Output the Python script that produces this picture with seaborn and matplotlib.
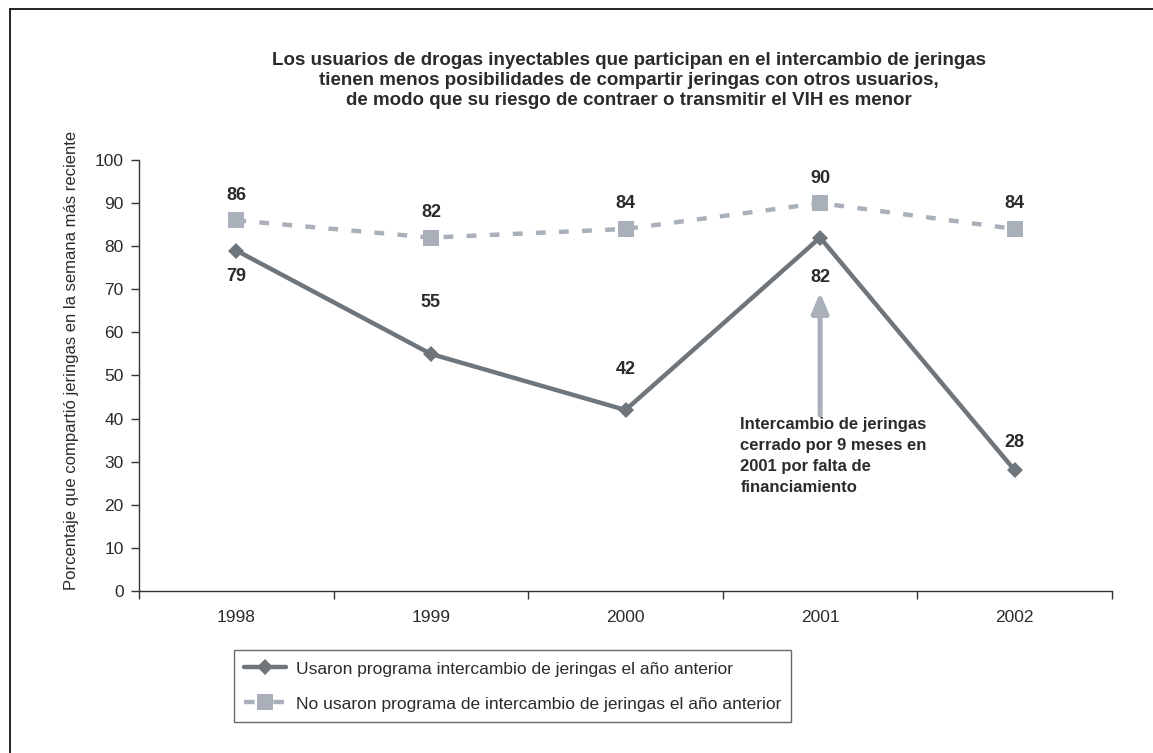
import matplotlib
matplotlib.use("Agg")
from matplotlib import pyplot as plt
from matplotlib.lines import Line2D
from matplotlib.patches import Rectangle
import numpy as np
import pandas as pd
import seaborn as sns

years = [1998, 1999, 2000, 2001, 2002]
used = [79, 55, 42, 82, 28]
not_used = [86, 82, 84, 90, 84]

title = ("Los usuarios de drogas inyectables que participan en el intercambio de jeringas\n"
         "tienen menos posibilidades de compartir jeringas con otros usuarios,\n"
         "de modo que su riesgo de contraer o transmitir el VIH es menor")
ylabel = "Porcentaje que compartió jeringas en la semana más reciente"
label_used = "Usaron programa intercambio de jeringas el año anterior"
label_not = "No usaron programa de intercambio de jeringas el año anterior"
note = "Intercambio de jeringas\ncerrado por 9 meses en\n2001 por falta de\nfinanciamiento"

# vertical offsets (points) of the value labels
used_offsets = [-19, 37, 29, -29, 20]
not_used_offset = 18

dark = "#6e767c"
light = "#a9b0b9"
txt = "#2b2b2b"

sns.set_style("white")
plt.rcParams['font.family'] = ['Liberation Sans', 'DejaVu Sans']

df = pd.DataFrame({"year": years, "used": used, "not_used": not_used})

fig = plt.figure(figsize=(11.53, 7.53), dpi=100)
ax = fig.add_axes([139 / 1153, 1 - 591 / 753, (1112 - 139) / 1153, (591 - 160) / 753])

sns.lineplot(data=df, x="year", y="not_used", ax=ax, color=light, lw=3.2,
             marker="s", markersize=11, markeredgewidth=0)
ax.lines[-1].set_dashes((2.2, 3.0))
sns.lineplot(data=df, x="year", y="used", ax=ax, color=dark, lw=3.2,
             marker="D", markersize=8, markeredgewidth=0)

for x, y in zip(years, not_used):
    ax.annotate(str(y), (x, y), xytext=(0, not_used_offset), textcoords="offset points",
                ha="center", va="center", fontsize=13, fontweight="bold", color=txt)
for x, y, off in zip(years, used, used_offsets):
    ax.annotate(str(y), (x, y), xytext=(0, off), textcoords="offset points",
                ha="center", va="center", fontsize=13, fontweight="bold", color=txt)

# arrow for the 2001 closure note
ax.annotate("", xy=(2001, 69.3), xytext=(2001, 40.8),
            arrowprops=dict(arrowstyle="-|>,head_width=0.5,head_length=1.2",
                            color=light, lw=3.6, shrinkA=0, shrinkB=0))
ax.text(2000.59, 40.3, note, ha="left", va="top", fontsize=12,
        fontweight="bold", color=txt, linespacing=1.5)

ax.set_xlim(1997.5, 2002.5)
ax.set_ylim(0, 100)
ax.set_yticks(np.arange(0, 101, 10))
ax.set_xticks(years)
ax.set_xticks(np.arange(1997.5, 2003, 1), minor=True)
ax.tick_params(axis="x", which="major", bottom=True, length=0, pad=14,
               labelsize=12.5, labelcolor=txt)
ax.tick_params(axis="x", which="minor", bottom=True, length=6, width=1,
               color="#333333", direction="out")
ax.tick_params(axis="y", left=True, length=6, width=1, color="#333333", direction="out",
               pad=5, labelsize=12.5, labelcolor=txt)
ax.set_xlabel("")
ax.set_ylabel(ylabel, fontsize=12, color=txt)
ax.yaxis.set_label_coords(-0.062, 0.536)
for side in ["top", "right"]:
    ax.spines[side].set_visible(False)
for side in ["left", "bottom"]:
    ax.spines[side].set_color("#333333")
    ax.spines[side].set_linewidth(1)

fig.text(629 / 1153, 1 - 52 / 753, title, ha="center", va="top", fontsize=13.5,
         fontweight="bold", color=txt, linespacing=1.22)

handles = [
    Line2D([], [], color=dark, lw=3.2, marker="D", markersize=8, markeredgewidth=0),
    Line2D([], [], color=light, lw=3.2, marker="s", markersize=11, markeredgewidth=0,
           linestyle=(0, (2.4, 4.2))),
]
leg = fig.legend(handles, [label_used, label_not], loc="upper left",
                 bbox_to_anchor=(234 / 1153, 1 - 650 / 753), fontsize=12.5,
                 frameon=True, fancybox=False, handlelength=2.45, handleheight=1.2,
                 labelspacing=1.0, borderpad=0.55, borderaxespad=0,
                 handletextpad=0.55, labelcolor=txt)
leg.get_frame().set_edgecolor("#444444")
leg.get_frame().set_linewidth(1)

# outer frame of the figure (only top and left visible)
fig.patches.append(Rectangle((9.5 / 1153, -0.1), 1.2, 1.1 - 9.5 / 753, fill=False,
                             edgecolor="#111111", lw=1.3, transform=fig.transFigure,
                             figure=fig))

fig.savefig("out.png", dpi=100)
